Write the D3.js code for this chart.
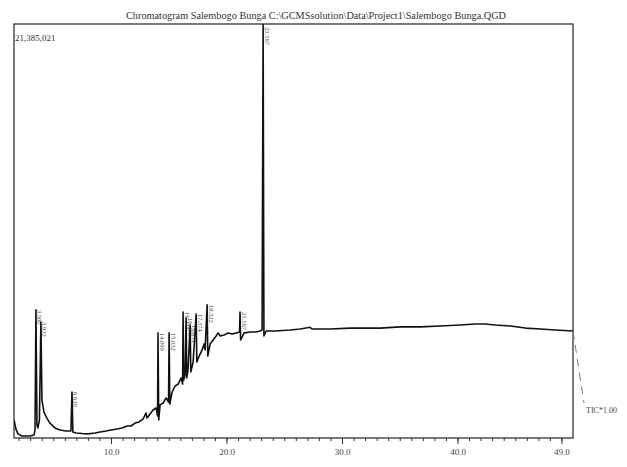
<!DOCTYPE html>
<html>
<head>
<meta charset="utf-8">
<script src="https://cdn.jsdelivr.net/npm/d3@7"></script>
<style>
  body { margin: 0; background: #fff; }
  text { font-family: "Liberation Serif", "Times New Roman", serif; }
</style>
</head>
<body>
<div class="chart"></div>
<script>
// chromatogram values (time in min, intensity in counts)
var traceTime = [1.60, 1.77, 1.94, 2.29, 2.98, 3.33, 3.42, 3.50, 3.59, 3.67, 3.80, 3.93, 4.02, 4.19, 4.45, 4.71,
  5.15, 5.58, 6.10, 6.53, 6.62, 6.70, 6.97, 7.49, 8.01, 8.61, 9.05, 9.57, 10.00, 10.52, 10.95, 11.39, 11.73,
  12.08, 12.43, 12.77, 13.03, 13.12, 13.38, 13.64, 13.90, 14.03, 14.07, 14.13, 14.25, 14.51, 14.77, 14.98,
  15.03, 15.09, 15.29, 15.55, 15.81, 16.07, 16.20, 16.24, 16.29, 16.41, 16.50, 16.56, 16.67, 16.85, 16.91,
  17.11, 17.37, 17.43, 17.63, 17.89, 18.06, 18.15, 18.32, 18.38, 18.58, 18.84, 19.10, 19.27, 19.45, 19.79,
  20.14, 20.49, 20.83, 21.13, 21.17, 21.22, 21.52, 22.05, 22.56, 22.91, 23.08, 23.17, 23.24, 23.43, 24.21,
  25.51, 26.38, 27.24, 27.42, 28.98, 30.71, 33.31, 35.04, 36.78, 38.51, 40.24, 41.54, 42.41, 43.28, 44.58,
  45.88, 47.18, 48.47, 50.03];

var traceIntensity = [880000, 410000, 160000, 50000, 50000, 100000, 360000, 6580000, 620000, 470000, 880000,
  5950000, 1920000, 1290000, 980000, 720000, 470000, 360000, 310000, 310000, 2330000, 260000, 210000, 180000,
  160000, 210000, 260000, 310000, 360000, 410000, 470000, 570000, 570000, 720000, 780000, 930000, 1240000,
  980000, 1190000, 1400000, 1500000, 1090000, 5390000, 880000, 1660000, 1760000, 2020000, 1810000, 5390000,
  1710000, 2330000, 2640000, 2740000, 3060000, 2740000, 6470000, 2950000, 3210000, 6160000, 3060000, 3470000,
  5800000, 3370000, 3880000, 6370000, 3880000, 4190000, 4510000, 4820000, 4510000, 6840000, 4190000, 4820000,
  5020000, 5230000, 5390000, 5230000, 5280000, 5390000, 5330000, 5390000, 5440000, 6470000, 5020000, 5390000,
  5440000, 5440000, 5490000, 5540000, 21385021, 5230000, 5490000, 5490000, 5540000, 5590000, 5680000, 5590000,
  5590000, 5640000, 5640000, 5700000, 5700000, 5750000, 5800000, 5850000, 5850000, 5800000, 5750000, 5640000,
  5590000, 5540000, 5490000];

// labelled peaks
var peakTime = [3.50, 3.93, 6.62, 14.07, 15.03, 16.24, 16.50, 16.85, 17.37, 18.32, 21.17, 23.17];
var peakIntensity = [6580000, 5950000, 2330000, 5390000, 5390000, 6470000, 6160000, 5800000, 6370000, 6840000, 6470000, 21385021];
var peakLabels = ["3.500", "3.932", "6.620", "14.069", "15.032", "16.245", "16.498", "16.851", "17.374", "18.322", "21.167", "23.167"];

var majorTicks = [10, 20, 30, 40, 49];
var minorTicks = d3.range(2, 50);
var tickLabels = ["10.0", "20.0", "30.0", "40.0", "49.0"];

var titleText = "Chromatogram Salembogo Bunga C:\\GCMSsolution\\Data\\Project1\\Salembogo Bunga.QGD";
var maxText = "21,385,021";
var ticText = "TIC*1.00";

var svgWidth = 627;
var svgHeight = 467;

var plot = { left: 14, top: 24, right: 573, bottom: 438 };

var svg = d3.select(".chart")
  .append("svg")
  .attr("width", svgWidth)
  .attr("height", svgHeight);

// scales
var xScale = d3.scaleLinear()
  .domain([1.6, 50.0])
  .range([plot.left, plot.right]);

var yScale = d3.scaleLinear()
  .domain([0, 21385021])
  .range([437, plot.top]);

// clip so the tall peak stops at the frame
svg.append("clipPath")
  .attr("id", "plotClip")
  .append("rect")
  .attr("x", plot.left)
  .attr("y", plot.top)
  .attr("width", plot.right - plot.left)
  .attr("height", plot.bottom - plot.top);

// title
svg.append("text")
  .attr("x", 316)
  .attr("y", 19)
  .attr("text-anchor", "middle")
  .attr("font-size", "10px")
  .attr("fill", "#333")
  .attr("textLength", 380)
  .attr("lengthAdjust", "spacingAndGlyphs")
  .text(titleText);

// trace
var traceData = traceTime.map(function (t, i) {
  return { time: t, value: traceIntensity[i] };
});

var line = d3.line()
  .x(d => xScale(d.time))
  .y(d => yScale(d.value));

svg.append("path")
  .datum(traceData)
  .attr("clip-path", "url(#plotClip)")
  .attr("d", line)
  .attr("fill", "none")
  .attr("stroke", "#111")
  .attr("stroke-width", 1.6)
  .attr("stroke-linejoin", "round");

// peak labels, vertical, starting at the apex
peakTime.forEach(function (t, i) {
  var y = Math.max(yScale(peakIntensity[i]), plot.top + 3);
  svg.append("text")
    .attr("transform", `translate(${xScale(t) + 1.5}, ${y}) rotate(90)`)
    .attr("font-size", "6.5px")
    .attr("fill", "#333")
    .text(peakLabels[i]);
});

// frame
svg.append("rect")
  .attr("x", plot.left)
  .attr("y", plot.top)
  .attr("width", plot.right - plot.left)
  .attr("height", plot.bottom - plot.top)
  .attr("fill", "none")
  .attr("stroke", "#222")
  .attr("stroke-width", 1.2);

// minor ticks
var minorAxis = d3.axisBottom(xScale)
  .tickValues(minorTicks)
  .tickSize(3)
  .tickFormat("");

svg.append("g")
  .attr("transform", `translate(0, ${plot.bottom})`)
  .call(minorAxis)
  .call(g => g.select(".domain").remove())
  .selectAll("line").attr("stroke", "#333");

// major ticks with labels
var majorAxis = d3.axisBottom(xScale)
  .tickValues(majorTicks)
  .tickSize(6)
  .tickPadding(5)
  .tickFormat((d, i) => tickLabels[i]);

var majorG = svg.append("g")
  .attr("transform", `translate(0, ${plot.bottom})`)
  .call(majorAxis)
  .call(g => g.select(".domain").remove());

majorG.selectAll("line").attr("stroke", "#333");
majorG.selectAll("text")
  .attr("font-family", "Liberation Serif, serif")
  .attr("font-size", "9px")
  .attr("fill", "#444");

// max intensity label
svg.append("text")
  .attr("x", plot.left + 1)
  .attr("y", 41)
  .attr("font-size", "9px")
  .attr("fill", "#333")
  .text(maxText);

// dashed TIC marker on the right
var lastValue = traceIntensity[traceIntensity.length - 1];
svg.append("line")
  .attr("x1", plot.right)
  .attr("y1", yScale(lastValue))
  .attr("x2", plot.right + 11)
  .attr("y2", 403)
  .attr("stroke", "#777")
  .attr("stroke-width", 1)
  .attr("stroke-dasharray", "8,6");

svg.append("text")
  .attr("x", 586)
  .attr("y", 413)
  .attr("font-size", "8px")
  .attr("fill", "#444")
  .text(ticText);
</script>
</body>
</html>
